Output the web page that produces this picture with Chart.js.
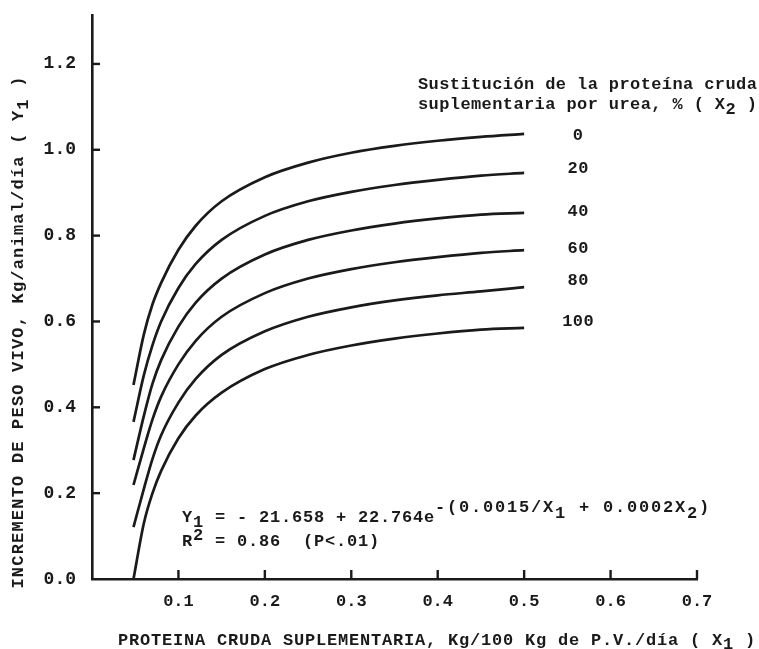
<!DOCTYPE html>
<html>
<head>
  <meta charset="utf-8">
  <title>Incremento de peso vivo</title>
  <script src="https://cdn.jsdelivr.net/npm/chart.js@4/dist/chart.umd.min.js"></script>
  <style>
    body { margin: 0; background: #fff; }
    #wrap { position: relative; width: 759px; height: 649px; }
  </style>
</head>
<body>
  <div id="wrap">
    <canvas id="canvas"></canvas>
  </div>
  <script>
    // proteina cruda suplementaria (X1)
    const proteina = [0.048, 0.06, 0.07, 0.08, 0.1, 0.12, 0.15, 0.2, 0.25, 0.3, 0.35, 0.4, 0.45, 0.5];

    // sustitucion por urea (X2), one curve each
    const sustitucion = ['0', '20', '40', '60', '80', '100'];

    // incremento de peso vivo (Y1) for every curve
    const urea0   = [0.452, 0.570, 0.640, 0.690, 0.767, 0.823, 0.880, 0.936, 0.970, 0.993, 1.009, 1.021, 1.030, 1.037];
    const urea20  = [0.366, 0.475, 0.545, 0.600, 0.678, 0.734, 0.790, 0.846, 0.880, 0.902, 0.918, 0.930, 0.940, 0.946];
    const urea40  = [0.277, 0.380, 0.455, 0.510, 0.588, 0.644, 0.700, 0.756, 0.790, 0.812, 0.828, 0.840, 0.849, 0.853];
    const urea60  = [0.219, 0.305, 0.372, 0.425, 0.500, 0.555, 0.611, 0.666, 0.700, 0.722, 0.738, 0.750, 0.760, 0.766];
    const urea80  = [0.121, 0.210, 0.280, 0.335, 0.411, 0.466, 0.522, 0.577, 0.611, 0.633, 0.649, 0.661, 0.670, 0.680];
    const urea100 = [0.000, 0.130, 0.200, 0.252, 0.328, 0.381, 0.434, 0.489, 0.522, 0.544, 0.560, 0.572, 0.581, 0.585];
    const curvas = [urea0, urea20, urea40, urea60, urea80, urea100];

    // tick labels
    const xTicks = [0.1, 0.2, 0.3, 0.4, 0.5, 0.6, 0.7];
    const yTicks = [0.0, 0.2, 0.4, 0.6, 0.8, 1.0, 1.2];

    const FONT = "'Liberation Mono', 'DejaVu Sans Mono', monospace";
    const INK = '#1a1a1a';

    // draws text pieces one after the other, some of them raised or lowered
    function drawRich(ctx, x, y, parts) {
      let cx = x;
      parts.forEach(function (p) {
        ctx.fillText(p[0], cx, y + (p[1] || 0));
        cx += ctx.measureText(p[0]).width;
      });
      return cx - x;
    }
    function richWidth(ctx, parts) {
      return parts.reduce((w, p) => w + ctx.measureText(p[0]).width, 0);
    }

    // short tick marks pointing into the plot, plus all the free texts
    const textos = {
      id: 'textos',
      afterDraw(chart) {
        const ctx = chart.ctx;
        const xs = chart.scales.x, ys = chart.scales.y;
        ctx.save();
        ctx.strokeStyle = INK;
        ctx.lineWidth = 2.4;
        yTicks.slice(1).forEach(function (v) {
          const py = ys.getPixelForValue(v);
          ctx.beginPath(); ctx.moveTo(xs.left, py); ctx.lineTo(xs.left + 8, py); ctx.stroke();
        });
        xTicks.forEach(function (v) {
          const px = xs.getPixelForValue(v);
          ctx.beginPath(); ctx.moveTo(px, ys.bottom); ctx.lineTo(px, ys.bottom - 9); ctx.stroke();
        });

        ctx.fillStyle = INK;
        ctx.font = 'bold 17px ' + FONT;
        ctx.textBaseline = 'alphabetic';
        ctx.textAlign = 'left';

        // leyenda
        ctx.letterSpacing = '0.4px';
        ctx.fillText('Sustitución de la proteína cruda', 418, 89);
        drawRich(ctx, 418, 109, [['suplementaria por urea, % ( X'], ['2', 5], [' )']]);

        // etiqueta al final de cada curva
        ctx.textAlign = 'center';
        ctx.textBaseline = 'middle';
        const lastX = proteina[proteina.length - 1];
        const offs = [2, -4, -1, -1, -6, -6];
        sustitucion.forEach(function (s, i) {
          const c = curvas[i];
          const py = ys.getPixelForValue(c[c.length - 1]) + offs[i];
          ctx.fillText(s, xs.getPixelForValue(lastX) + 54, py);
        });
        ctx.textAlign = 'left';
        ctx.textBaseline = 'alphabetic';

        // ecuacion
        ctx.letterSpacing = '0.8px';
        const w = drawRich(ctx, 182, 522, [['Y'], ['1', 5], [' = - 21.658 + 22.764e']]);
        ctx.letterSpacing = '1.8px';
        drawRich(ctx, 182 + w, 512, [['-(0.0015/X'], ['1', 6], [' + 0.0002X'], ['2', 6], [')']]);
        ctx.letterSpacing = '0.8px';
        drawRich(ctx, 182, 546, [['R'], ['2', -6], [' = 0.86  (P<.01)']]);

        // titulo eje x
        drawRich(ctx, 118, 645, [['PROTEINA CRUDA SUPLEMENTARIA, Kg/100 Kg de P.V./día ( X'], ['1', 4], [' )']]);

        // titulo eje y
        ctx.letterSpacing = '1.2px';
        const yParts = [['INCREMENTO DE PESO VIVO, Kg/animal/día ( Y'], ['1', 5], [' )']];
        ctx.translate(23, 332);
        ctx.rotate(-Math.PI / 2);
        drawRich(ctx, -richWidth(ctx, yParts) / 2, 0, yParts);
        ctx.restore();
      }
    };

    const datasets = curvas.map(function (c, i) {
      return {
        label: sustitucion[i],
        data: proteina.map((x, k) => ({ x: x, y: c[k] })),
        borderColor: INK,
        borderWidth: 2.7,
        pointRadius: 0,
        fill: false,
        cubicInterpolationMode: 'monotone'
      };
    });

    new Chart(document.getElementById('canvas'), {
      type: 'line',
      data: { datasets: datasets },
      options: {
        responsive: true,
        maintainAspectRatio: false,
        animation: false,
        layout: { padding: { top: 15, right: 62, left: 0, bottom: 0 } },
        plugins: { legend: { display: false }, tooltip: { enabled: false } },
        scales: {
          x: {
            type: 'linear',
            min: 0,
            max: 0.7,
            afterBuildTicks: s => { s.ticks = xTicks.map(v => ({ value: v })); },
            afterFit: s => { s.height = 70; },
            grid: { display: false, drawTicks: false },
            border: { display: true, color: INK, width: 2.6 },
            ticks: {
              padding: 13,
              color: INK,
              font: { family: FONT, size: 17, weight: 'bold' },
              callback: v => v.toFixed(1)
            }
          },
          y: {
            min: 0,
            max: 1.314,
            afterBuildTicks: s => { s.ticks = yTicks.map(v => ({ value: v })); },
            afterFit: s => { s.width = 92; s.paddingTop = 0; s.paddingBottom = 0; },
            grid: { display: false, drawTicks: false },
            border: { display: true, color: INK, width: 2.6 },
            ticks: {
              padding: 16,
              color: INK,
              font: { family: FONT, size: 18, weight: 'bold' },
              callback: v => v.toFixed(1)
            }
          }
        }
      },
      plugins: [textos]
    });
  </script>
</body>
</html>
